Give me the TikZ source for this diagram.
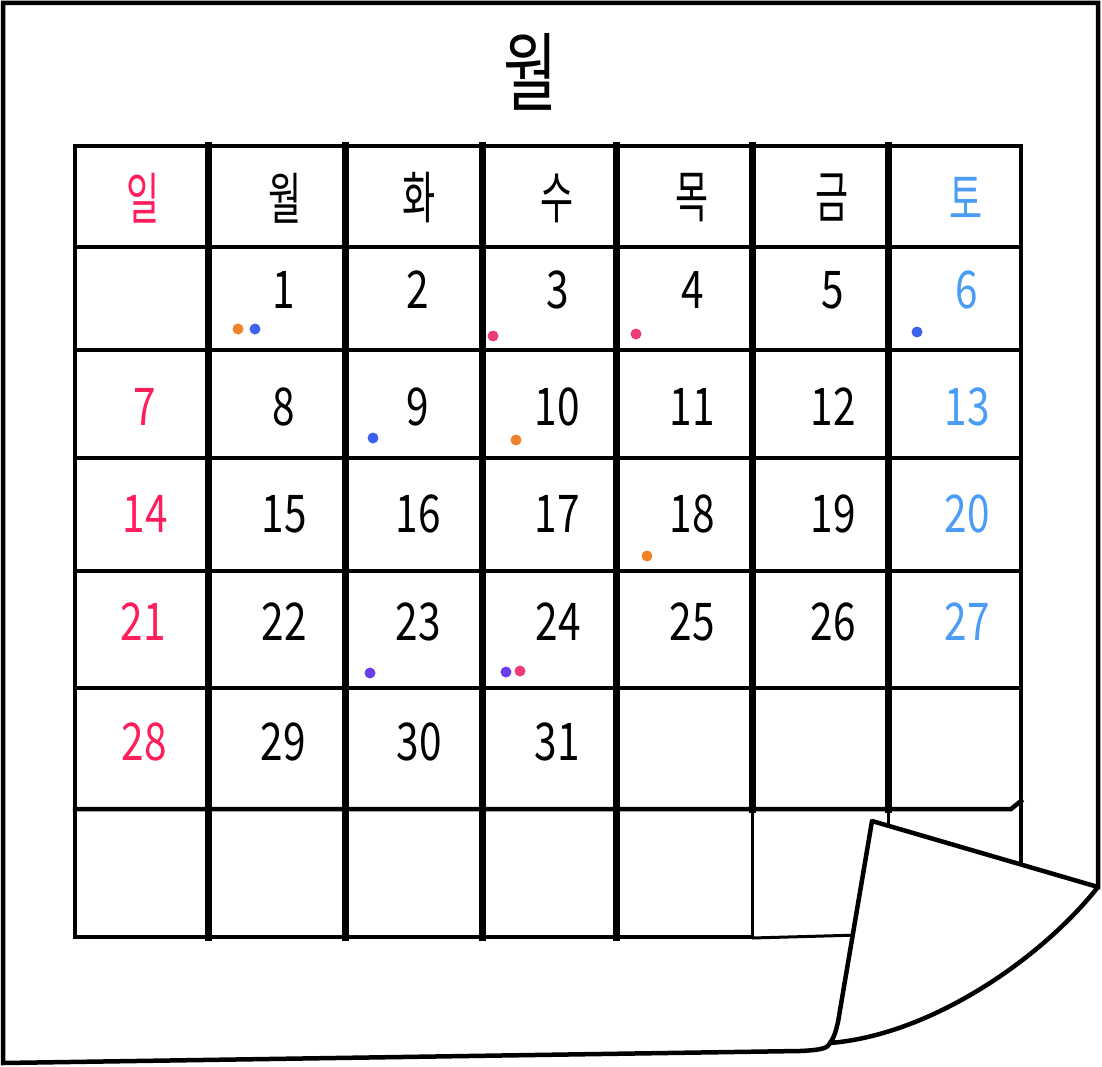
\documentclass[tikz,border=0pt]{standalone}
\usepackage{fontspec}
\usepackage{graphicx}
\newfontfamily\kfont{Noto Sans CJK KR}
\definecolor{sunred}{HTML}{FF1E5C}
\definecolor{satblue}{HTML}{4B9CF5}
\definecolor{dotorange}{HTML}{F0832A}
\definecolor{dotblue}{HTML}{3D63EE}
\definecolor{dotpink}{HTML}{EE3C74}
\definecolor{dotpurple}{HTML}{6A3CEC}
\newcommand\daynum[1]{\scalebox{0.78}[1]{\kfont\fontsize{52}{52}\selectfont #1}}
\newcommand\dayhead[1]{\scalebox{0.72}[1.12]{\kfont\fontsize{50}{50}\selectfont #1}}
\newcommand\monthtitle[1]{\scalebox{0.68}[1]{\kfont\fontsize{86}{86}\selectfont #1}}
\tikzset{
  frame/.style={line width=4.5pt, line cap=rect, line join=miter},
  hline/.style={line width=4.5pt, line cap=rect},
  vline/.style={line width=7pt, line cap=rect},
  thinline/.style={line width=3pt},
  txt/.style={inner sep=0pt, anchor=center},
  dot/.style={circle, inner sep=0pt, minimum size=11pt, draw=none},
}
\begin{document}
\begin{tikzpicture}[x=1pt,y=-1pt]
\useasboundingbox (0,0) rectangle (1102,1067);
% page outline
\draw[frame] (1098,887) -- (1098,3) -- (3,3) -- (3,1063) -- (800,1051)
  .. controls (822,1050) and (828,1048) .. (830,1043);
% grid horizontals
\foreach \yy in {146,247,350,458,571,688} {
  \draw[hline] (75,\yy) -- (1021,\yy);
}
\draw[hline] (75,809) -- (1011,809) -- (1021,801);
\draw[hline] (75,937) -- (752,937);
\draw[thinline] (752,938) -- (860,935);
% grid verticals
\draw[hline] (75,146) -- (75,937);
\foreach \xx in {208,345,482,616} {
  \draw[vline] (\xx,146) -- (\xx,937);
}
\draw[vline] (752,146) -- (752,809);
\draw[thinline] (752,809) -- (752,938);
\draw[vline] (888,146) -- (888,809);
\draw[thinline] (888,809) -- (888,824);
\draw[hline] (1021,146) -- (1021,870);
% curled corner
\draw[frame, line join=round, fill=white] (872,821) -- (1098,887)
  .. controls (1040,960) and (930,1035) .. (830,1043)
  .. controls (835,1036) and (836,1030) .. (838,1022) -- cycle;
% title
\node[txt] (title) at (530,72) {\monthtitle{월}};
% headers
\node[txt, text=sunred] (hsun) at (143,198) {\dayhead{일}};
\node[txt] (hmon) at (285,198) {\dayhead{월}};
\node[txt] (htue) at (419,198) {\dayhead{화}};
\node[txt] (hwed) at (557,198) {\dayhead{수}};
\node[txt] (hthu) at (692,198) {\dayhead{목}};
\node[txt] (hfri) at (832,198) {\dayhead{금}};
\node[txt, text=satblue] (hsat) at (966,198) {\dayhead{토}};
% row 1
\node[txt] (d1) at (284,290) {\daynum{1}};
\node[txt] (d2) at (418,290) {\daynum{2}};
\node[txt] (d3) at (558,290) {\daynum{3}};
\node[txt] (d4) at (693,290) {\daynum{4}};
\node[txt] (d5) at (833,290) {\daynum{5}};
\node[txt, text=satblue] (d6) at (967,290) {\daynum{6}};
% row 2
\node[txt, text=sunred] (d7) at (145,407) {\daynum{7}};
\node[txt] (d8) at (284,407) {\daynum{8}};
\node[txt] (d9) at (418,407) {\daynum{9}};
\node[txt] (d10) at (557,407) {\daynum{10}};
\node[txt] (d11) at (692,407) {\daynum{11}};
\node[txt] (d12) at (833,407) {\daynum{12}};
\node[txt, text=satblue] (d13) at (967,407) {\daynum{13}};
% row 3
\node[txt, text=sunred] (d14) at (145,514) {\daynum{14}};
\node[txt] (d15) at (284,514) {\daynum{15}};
\node[txt] (d16) at (418,514) {\daynum{16}};
\node[txt] (d17) at (557,514) {\daynum{17}};
\node[txt] (d18) at (692,514) {\daynum{18}};
\node[txt] (d19) at (833,514) {\daynum{19}};
\node[txt, text=satblue] (d20) at (967,514) {\daynum{20}};
% row 4
\node[txt, text=sunred] (d21) at (143,622) {\daynum{21}};
\node[txt] (d22) at (284,622) {\daynum{22}};
\node[txt] (d23) at (418,622) {\daynum{23}};
\node[txt] (d24) at (558,622) {\daynum{24}};
\node[txt] (d25) at (692,622) {\daynum{25}};
\node[txt] (d26) at (833,622) {\daynum{26}};
\node[txt, text=satblue] (d27) at (967,622) {\daynum{27}};
% row 5
\node[txt, text=sunred] (d28) at (144,742) {\daynum{28}};
\node[txt] (d29) at (283,742) {\daynum{29}};
\node[txt] (d30) at (419,742) {\daynum{30}};
\node[txt] (d31) at (557,742) {\daynum{31}};
% dots
\node[dot, fill=dotorange] (p1a) at (238,329) {};
\node[dot, fill=dotblue] (p1b) at (255,329) {};
\node[dot, fill=dotpink] (p3) at (493,336) {};
\node[dot, fill=dotpink] (p4) at (636,334) {};
\node[dot, fill=dotblue] (p6) at (917,332) {};
\node[dot, fill=dotblue] (p9) at (373,438) {};
\node[dot, fill=dotorange] (p10) at (516,440) {};
\node[dot, fill=dotorange] (p18) at (647,556) {};
\node[dot, fill=dotpurple] (p23) at (370,673) {};
\node[dot, fill=dotpurple] (p24a) at (506,672) {};
\node[dot, fill=dotpink] (p24b) at (520,671) {};
\end{tikzpicture}
\end{document}
